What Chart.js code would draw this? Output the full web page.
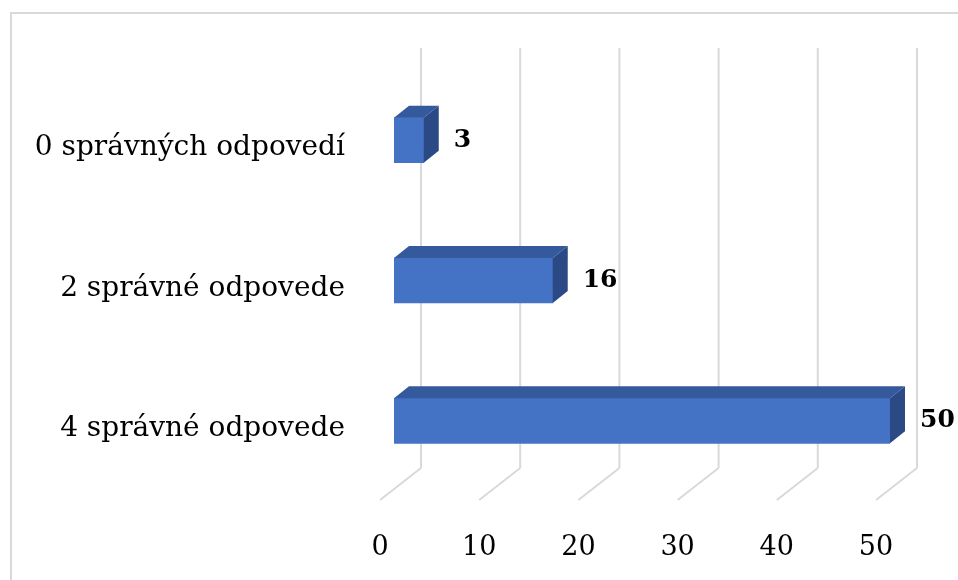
<!DOCTYPE html>
<html>
<head>
<meta charset="utf-8">
<script src="https://cdn.jsdelivr.net/npm/chart.js@4"></script>
<style>
  html, body { margin: 0; padding: 0; background: #fff; }
</style>
</head>
<body>
<canvas id="myChart" width="958" height="580"></canvas>
<script>
// chart data
const categories = ['0 správných odpovedí', '2 správné odpovede', '4 správné odpovede'];
const counts = [3, 16, 50];
const xTicks = [0, 10, 20, 30, 40, 50];

const frontColor = '#4472C4';
const topColor = '#34599C';
const sideColor = '#2B4A85';
const gridColor = '#D9D9D9';
const fontFamily = '"DejaVu Serif", "Liberation Serif", serif';

// back wall + floor lines, drawn behind the bars
const wallPlugin = {
  id: 'wall',
  beforeDraw(chart) {
    const ctx = chart.ctx;
    ctx.save();
    ctx.strokeStyle = gridColor;
    ctx.lineWidth = 2;
    ctx.strokeRect(11, 13, 1000, 1000);
    ctx.restore();
  },
  beforeDatasetsDraw(chart) {
    const ctx = chart.ctx;
    const x = chart.scales.x;
    const area = chart.chartArea;
    ctx.save();
    ctx.strokeStyle = gridColor;
    ctx.lineWidth = 2;
    xTicks.forEach(v => {
      const px = x.getPixelForValue(v);
      ctx.beginPath();
      ctx.moveTo(px + 27, area.top - 22);
      ctx.lineTo(px + 27, area.bottom - 23);
      ctx.stroke();
      ctx.beginPath();
      ctx.moveTo(px + 27, area.bottom - 23);
      ctx.lineTo(px - 14, area.bottom + 9);
      ctx.stroke();
    });
    ctx.restore();
  }
};

// top and side faces of the bars, plus value labels
const bar3dPlugin = {
  id: 'bar3d',
  afterDatasetsDraw(chart) {
    const ctx = chart.ctx;
    const meta = chart.getDatasetMeta(0);
    const dx = 15, dy = -12;
    ctx.save();
    meta.data.forEach((bar, i) => {
      const { x, y, base, height } = bar.getProps(['x', 'y', 'base', 'height'], true);
      const top = y - height / 2;
      const bottom = y + height / 2;

      ctx.fillStyle = topColor;
      ctx.beginPath();
      ctx.moveTo(base, top);
      ctx.lineTo(base + dx, top + dy);
      ctx.lineTo(x + dx, top + dy);
      ctx.lineTo(x, top);
      ctx.closePath();
      ctx.fill();

      ctx.fillStyle = sideColor;
      ctx.beginPath();
      ctx.moveTo(x, top);
      ctx.lineTo(x + dx, top + dy);
      ctx.lineTo(x + dx, bottom + dy);
      ctx.lineTo(x, bottom);
      ctx.closePath();
      ctx.fill();

      ctx.fillStyle = '#000';
      ctx.font = 'bold 25px ' + fontFamily;
      ctx.textAlign = 'left';
      ctx.textBaseline = 'middle';
      ctx.fillText(String(counts[i]), x + 30, y);
    });
    ctx.restore();
  }
};

const ctx = document.getElementById('myChart').getContext('2d');

const chart = new Chart(ctx, {
  type: 'bar',
  data: {
    labels: categories,
    datasets: [{
      label: 'Počet',
      data: counts,
      backgroundColor: frontColor,
      borderWidth: 0,
      barThickness: 45
    }]
  },
  plugins: [wallPlugin, bar3dPlugin],
  options: {
    indexAxis: 'y',
    responsive: false,
    animation: false,
    layout: { padding: { top: 70, right: 68, left: 0, bottom: 0 } },
    plugins: {
      legend: { display: false },
      tooltip: { enabled: false }
    },
    scales: {
      x: {
        min: 0,
        max: 50,
        grid: { display: false, drawTicks: false },
        border: { display: false },
        afterFit: scale => { scale.height = 89; },
        afterBuildTicks: scale => { scale.ticks = xTicks.map(v => ({ value: v })); },
        ticks: {
          color: '#000',
          padding: 41,
          labelOffset: -14,
          font: { family: fontFamily, size: 27 }
        }
      },
      y: {
        grid: { display: false, drawTicks: false },
        border: { display: false },
        afterFit: scale => { scale.width = 394; },
        ticks: {
          color: '#000',
          padding: 49,
          labelOffset: 8,
          font: { family: fontFamily, size: 28 }
        }
      }
    }
  }
});
</script>
</body>
</html>
